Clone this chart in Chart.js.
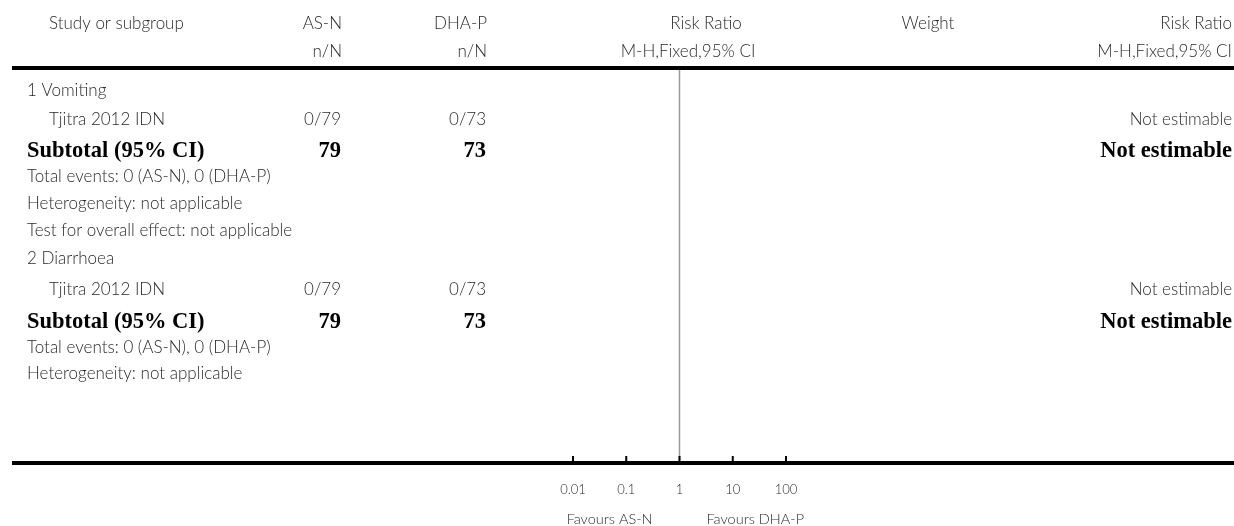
<!DOCTYPE html>
<html>
<head>
<meta charset="utf-8">
<script src="https://cdn.jsdelivr.net/npm/chart.js@4.4.0/dist/chart.umd.min.js"></script>
<style>
  body { margin: 0; background: #fff; }
  #wrap { width: 1234px; height: 526px; position: relative; }
</style>
</head>
<body>
<div id="wrap"><canvas id="forest"></canvas></div>
<script>
// table content, one entry per row
const studyLabels = [
  '1 Vomiting',
  'Tjitra 2012 IDN',
  'Subtotal (95% CI)',
  'Total events: 0 (AS-N), 0 (DHA-P)',
  'Heterogeneity: not applicable',
  'Test for overall effect: not applicable',
  '2 Diarrhoea',
  'Tjitra 2012 IDN',
  'Subtotal (95% CI)',
  'Total events: 0 (AS-N), 0 (DHA-P)',
  'Heterogeneity: not applicable'
];
const rowKinds = ['group', 'study', 'subtotal', 'note', 'note', 'note', 'group', 'study', 'subtotal', 'note', 'note'];
const asnValues = ['', '0/79', '79', '', '', '', '', '0/79', '79', '', ''];
const dhapValues = ['', '0/73', '73', '', '', '', '', '0/73', '73', '', ''];
const weightValues = ['', '', '', '', '', '', '', '', '', '', ''];
const riskRatioText = ['', 'Not estimable', 'Not estimable', '', '', '', '', 'Not estimable', 'Not estimable', '', ''];
const tickValues = [0.01, 0.1, 1, 10, 100];
const tickLabels = ['0.01', '0.1', '1', '10', '100'];
const favourLeft = 'Favours AS-N';
const favourRight = 'Favours DHA-P';

// layout (row baselines in vertical units = px from top)
const rowY = [91, 120, 151, 177, 204, 231, 259, 290, 322, 348, 374];
const Y_TOP = 69, Y_BOT = 463;

const sans = '"Lato", "DejaVu Sans", sans-serif';
const serif = '"Liberation Serif", "DejaVu Serif", serif';
const txt = '#2a2a2a';
const bodyFont = '300 17px ' + sans;

const tablePlugin = {
  id: 'table',
  afterDraw(chart) {
    const ctx = chart.ctx;
    const xs = chart.scales.x, ys = chart.scales.y;
    ctx.save();
    ctx.textBaseline = 'middle';
    ctx.fillStyle = txt;

    // headers
    ctx.font = bodyFont;
    ctx.textAlign = 'left';
    ctx.fillText('Study or subgroup', 49, 24);
    ctx.textAlign = 'right';
    ctx.fillText('AS-N', 342, 24);
    ctx.fillText('n/N', 342, 52);
    ctx.fillText('DHA-P', 487, 24);
    ctx.fillText('n/N', 487, 52);
    ctx.fillText('Risk Ratio', 1232, 24);
    ctx.fillText('M-H,Fixed,95% CI', 1232, 52);
    ctx.textAlign = 'center';
    ctx.fillText('Risk Ratio', 706, 24);
    ctx.fillText('M-H,Fixed,95% CI', 688, 52);
    ctx.fillText('Weight', 928, 24);

    // thick rules
    ctx.strokeStyle = '#000';
    ctx.lineWidth = 4;
    ctx.beginPath();
    ctx.moveTo(12, ys.getPixelForValue(Y_TOP) - 1); ctx.lineTo(1234, ys.getPixelForValue(Y_TOP) - 1);
    ctx.moveTo(12, ys.getPixelForValue(Y_BOT)); ctx.lineTo(1234, ys.getPixelForValue(Y_BOT));
    ctx.stroke();

    // rows
    studyLabels.forEach((lab, i) => {
      const y = ys.getPixelForValue(rowY[i]);
      const kind = rowKinds[i];
      if (kind === 'subtotal') {
        ctx.font = 'bold 22.5px ' + serif;
        ctx.fillStyle = '#000';
      } else {
        ctx.font = bodyFont;
        ctx.fillStyle = txt;
      }
      ctx.textAlign = 'left';
      ctx.fillText(lab, kind === 'study' ? 49 : 27, y);
      ctx.textAlign = 'right';
      if (asnValues[i]) ctx.fillText(asnValues[i], 341, y);
      if (dhapValues[i]) ctx.fillText(dhapValues[i], 486, y);
      if (riskRatioText[i]) ctx.fillText(riskRatioText[i], 1232, y);
      if (weightValues[i]) { ctx.textAlign = 'center'; ctx.fillText(weightValues[i], 928, y); }
    });

    // axis ticks (pointing up) and labels
    const yb = ys.getPixelForValue(Y_BOT);
    ctx.strokeStyle = '#000';
    ctx.lineWidth = 2;
    ctx.beginPath();
    tickValues.forEach(v => {
      const px = xs.getPixelForValue(v);
      ctx.moveTo(px, yb - 7); ctx.lineTo(px, yb);
    });
    ctx.stroke();
    ctx.fillStyle = txt;
    ctx.font = '300 13px ' + sans;
    ctx.textAlign = 'center';
    tickValues.forEach((v, i) => ctx.fillText(tickLabels[i], xs.getPixelForValue(v), 490));
    ctx.font = '300 14.5px ' + sans;
    ctx.textAlign = 'right';
    ctx.fillText(favourLeft, xs.getPixelForValue(1) - 27, 519);
    ctx.textAlign = 'left';
    ctx.fillText(favourRight, xs.getPixelForValue(1) + 27, 519);
    ctx.restore();
  }
};

new Chart('forest', {
  type: 'scatter',
  data: {
    datasets: [
      {
        // line of no effect at RR = 1
        data: [{ x: 1, y: Y_TOP }, { x: 1, y: Y_BOT }],
        showLine: true,
        borderColor: '#9a9a9a',
        borderWidth: 1.5,
        pointRadius: 0
      }
    ]
  },
  options: {
    responsive: true,
    maintainAspectRatio: false,
    animation: false,
    layout: { padding: { left: 573, right: 448, top: 0, bottom: 0 } },
    plugins: { legend: { display: false }, tooltip: { enabled: false } },
    scales: {
      x: { type: 'logarithmic', min: 0.01, max: 100, display: false },
      y: { type: 'linear', min: 0, max: 526, reverse: true, display: false }
    }
  },
  plugins: [tablePlugin]
});
</script>
</body>
</html>
